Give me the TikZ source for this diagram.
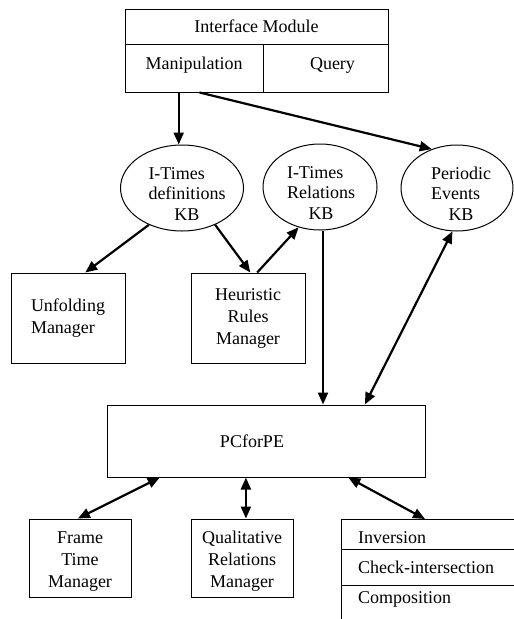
\documentclass[tikz,border=0pt]{standalone}
\usepackage{fontspec}
\setmainfont{Liberation Serif}
\usetikzlibrary{shapes.geometric,arrows.meta,calc}
\newcommand{\kbtext}[3]{\raisebox{-12pt}[0pt][0pt]{\hspace*{#1}\begin{tabular}{@{}l@{}}#2\\\multicolumn{1}{@{}c@{}}{#3}\end{tabular}}}
\begin{document}
\begin{tikzpicture}[x=1pt,y=-1pt,
  box/.style={draw,line width=1pt,inner sep=0pt,align=center,font=\fontsize{18}{22}\selectfont},
  kb/.style={draw,ellipse,line width=1pt,inner sep=0pt,minimum width=114pt,minimum height=86pt,font=\fontsize{18}{20.5}\selectfont},
  arr/.style={line width=2.2pt,-{Triangle[length=12pt,width=10pt]}},
  darr/.style={line width=2.2pt,{Triangle[length=12pt,width=10pt]}-{Triangle[length=12pt,width=10pt]}},
  lbl/.style={inner sep=0pt,font=\fontsize{18}{22}\selectfont},
  thin/.style={line width=1pt}]
\useasboundingbox (0,0) rectangle (514,619);
% interface module
\node[box,minimum width=263pt,minimum height=35pt] (ifm) at (256.5,26.5) {Interface Module};
\node[box,minimum width=138pt,minimum height=48pt] (manip) at (194,68) {\raisebox{-1pt}[0pt][0pt]{Manipulation}};
\node[box,minimum width=125pt,minimum height=48pt] (query) at (325.5,68) {\hspace*{14pt}\raisebox{-1pt}[0pt][0pt]{Query}};
% knowledge bases
\node[kb] (defkb) at (182,188) {\kbtext{10pt}{I-Times\\definitions}{KB}};
\node[kb] (relkb) at (320,187) {\kbtext{2pt}{I-Times\\Relations}{KB}};
\node[kb,minimum width=112pt] (pekb) at (457,188) {\kbtext{8pt}{Periodic\\Events}{KB}};
% managers
\node[box,align=left,minimum width=114pt,minimum height=90pt] (unfold) at (68,318) {Unfolding\\Manager};
\node[box,minimum width=114pt,minimum height=90pt] (heur) at (248,318) {Heuristic\\Rules\\Manager};
\node[box,minimum width=318pt,minimum height=72pt] (pcpe) at (266,441) {PCforPE\hspace*{28pt}};
\node[box,minimum width=102pt,minimum height=78pt] (frame) at (80,558) {\raisebox{-7.5pt}[0pt][0pt]{\begin{tabular}{@{}c@{}}Frame\\Time\\Manager\end{tabular}}};
\node[box,minimum width=102pt,minimum height=78pt] (qual) at (242,558) {\raisebox{-7.5pt}[0pt][0pt]{\begin{tabular}{@{}c@{}}Qualitative\\Relations\\Manager\end{tabular}}};
% operations
\draw[thin] (341,619) -- (341,519) -- (514,519);
\draw[thin] (341,549) -- (514,549);
\draw[thin] (341,585) -- (514,585);
\node[lbl,anchor=base west] (inv) at (358,543) {Inversion};
\node[lbl,anchor=base west] (chk) at (358,573) {Check-intersection};
\node[lbl,anchor=base west] (comp) at (358,603) {Composition};
\coordinate (opstop) at (425,519);
% connectors
\coordinate (m1) at ($(manip.south west)!0.39!(manip.south east)$);
\draw[arr] (m1) -- (m1 |- defkb.north);
\draw[arr] ($(manip.south west)!0.54!(manip.south east)$) -- (pekb.123);
\draw[arr] (defkb.228) -- ($(unfold.north west)!0.65!(unfold.north east)$);
\draw[arr] (defkb.312) -- ($(heur.north west)!0.52!(heur.north east)$);
\draw[arr] ($(heur.north west)!0.58!(heur.north east)$) -- (relkb.242);
\coordinate (r1) at ($(relkb.south)+(3,0)$);
\draw[arr] (r1) -- (r1 |- pcpe.north);
\draw[darr] (pekb.264) -- ($(pcpe.north west)!0.81!(pcpe.north east)$);
\draw[darr] ($(pcpe.south west)!0.167!(pcpe.south east)$) -- ($(frame.north west)!0.48!(frame.north east)$);
\coordinate (q1) at ($(pcpe.south west)!0.437!(pcpe.south east)$);
\draw[darr] (q1) -- (q1 |- qual.north);
\draw[darr] ($(pcpe.south west)!0.758!(pcpe.south east)$) -- (opstop);
\end{tikzpicture}
\end{document}
